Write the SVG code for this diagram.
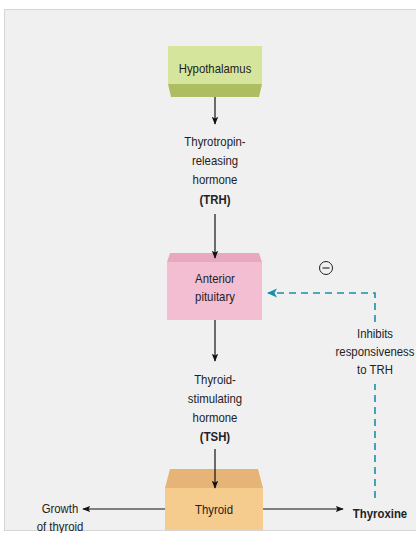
<svg xmlns="http://www.w3.org/2000/svg" width="416" height="533" viewBox="0 0 416 533">
  <defs>
    <marker id="ah" viewBox="0 0 10 10" refX="9" refY="5" markerWidth="8" markerHeight="8" markerUnits="userSpaceOnUse" orient="auto">
      <path d="M0,1 L10,5 L0,9 L2,5 Z" fill="#111"/>
    </marker>
    <marker id="ahTeal" viewBox="0 0 10 10" refX="9" refY="5" markerWidth="10" markerHeight="10" markerUnits="userSpaceOnUse" orient="auto">
      <path d="M0,0.5 L10,5 L0,9.5 L2.5,5 Z" fill="#1a8fa8"/>
    </marker>
    <style>
      text { font-family: "Liberation Sans", Arial, sans-serif; font-size: 13px; fill: #222; text-anchor: middle; }
      .b { font-weight: bold; }
      .ln { stroke: #111; stroke-width: 1.2; fill: none; }
      .fb { stroke: #1a8fa8; stroke-width: 1.6; fill: none; stroke-dasharray: 7 5; }
    </style>
  </defs>

  <!-- page -->
  <rect x="0" y="0" width="416" height="533" fill="#ffffff"/>
  <rect x="4.5" y="9.5" width="420" height="521" fill="#f0f0f0" stroke="#d6d6d6" stroke-width="1"/>

  <!-- nodes (labels are condensed horizontally) -->
  <g id="hypothalamus">
    <rect x="168" y="46" width="94" height="38" fill="#d6e59c"/>
    <path d="M168,84 L262,84 L259,97 L171,97 Z" fill="#aebd62"/>
    <text transform="translate(215,73) scale(0.875,1)">Hypothalamus</text>
  </g>

  <g id="trh">
    <text transform="translate(215,146) scale(0.875,1)">Thyrotropin-</text>
    <text transform="translate(215,165) scale(0.875,1)">releasing</text>
    <text transform="translate(215,184) scale(0.875,1)">hormone</text>
    <text class="b" transform="translate(215,204) scale(0.875,1)">(TRH)</text>
  </g>

  <g id="anterior-pituitary">
    <path d="M170,253 L259,253 L262,262 L167,262 Z" fill="#e8a9c0"/>
    <rect x="167" y="262" width="95" height="58" fill="#f3bed2"/>
    <text transform="translate(215,283) scale(0.875,1)">Anterior</text>
    <text transform="translate(215,301) scale(0.875,1)">pituitary</text>
  </g>

  <g id="tsh">
    <text transform="translate(215,384) scale(0.875,1)">Thyroid-</text>
    <text transform="translate(215,403) scale(0.875,1)">stimulating</text>
    <text transform="translate(215,422) scale(0.875,1)">hormone</text>
    <text class="b" transform="translate(215,441) scale(0.875,1)">(TSH)</text>
  </g>

  <g id="thyroid">
    <path d="M170,469 L258,469 L263,488 L165,488 Z" fill="#e6b476"/>
    <rect x="165" y="488" width="98" height="42" fill="#f6cb8e"/>
    <text transform="translate(214,514) scale(0.875,1)">Thyroid</text>
  </g>

  <g id="growth">
    <text transform="translate(60,513) scale(0.875,1)">Growth</text>
    <text transform="translate(60,531) scale(0.875,1)">of thyroid</text>
  </g>

  <g id="thyroxine">
    <text class="b" transform="translate(380,518) scale(0.875,1)">Thyroxine</text>
  </g>

  <g id="inhibits-label">
    <text transform="translate(375,338) scale(0.875,1)">Inhibits</text>
    <text transform="translate(375,356) scale(0.875,1)">responsiveness</text>
    <text transform="translate(375,374) scale(0.875,1)">to TRH</text>
  </g>

  <!-- connectors -->
  <g id="connectors">
    <line class="ln" x1="215" y1="97" x2="215" y2="124" marker-end="url(#ah)"/>
    <line class="ln" x1="215" y1="214" x2="215" y2="258" marker-end="url(#ah)"/>
    <line class="ln" x1="215" y1="320" x2="215" y2="361" marker-end="url(#ah)"/>
    <line class="ln" x1="215" y1="449" x2="215" y2="488" marker-end="url(#ah)"/>
    <line class="ln" x1="165" y1="509" x2="83" y2="509" marker-end="url(#ah)"/>
    <line class="ln" x1="263" y1="509" x2="343" y2="509" marker-end="url(#ah)"/>
    <!-- feedback from thyroxine -->
    <polyline class="fb" points="375,498 375,384"/>
    <polyline class="fb" points="375,322 375,293 268,293" marker-end="url(#ahTeal)"/>
    <circle cx="326" cy="268" r="6.5" fill="none" stroke="#222" stroke-width="1"/>
    <line x1="322.5" y1="268" x2="329.5" y2="268" stroke="#222" stroke-width="1.1"/>
  </g>
</svg>
